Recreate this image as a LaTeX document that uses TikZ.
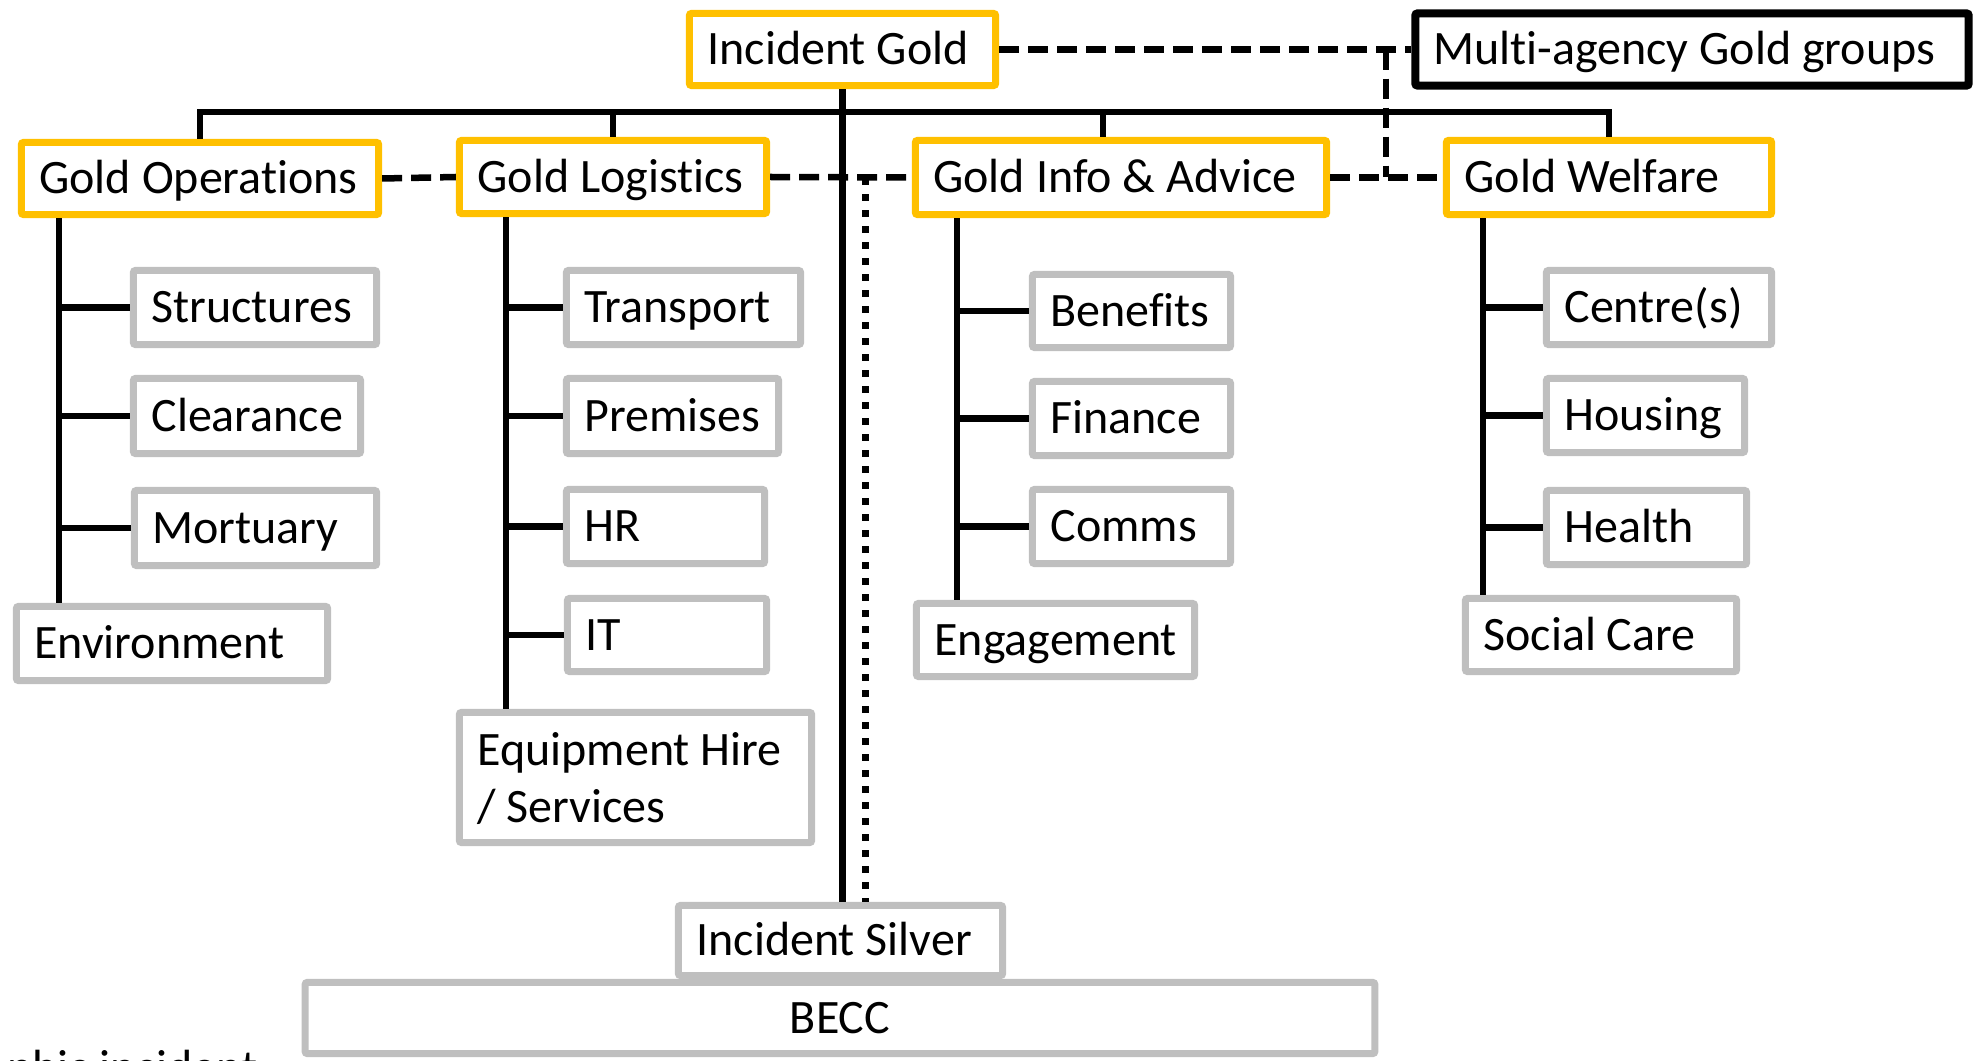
\documentclass[tikz,border=0pt]{standalone}
\usepackage{fontspec}
\setmainfont{Carlito}[Ligatures=NoCommon]
\definecolor{goldline}{HTML}{FFC000}
\definecolor{greyline}{HTML}{BFBFBF}
\tikzset{
  box/.style={draw, line width=0.07cm, rounded corners=0.02cm, fill=white,
    inner xsep=0.18cm, inner ysep=0pt,
    text height=8.8pt, text depth=0pt,
    font=\fontsize{13.65}{16}\selectfont},
  goldbox/.style={box, draw=goldline},
  subbox/.style={box, draw=greyline},
  blackbox/.style={box, draw=black, line width=0.08cm},
  conn/.style={line width=0.065cm, draw=black},
  dashline/.style={line width=0.065cm, draw=black, dash pattern=on 0.2cm off 0.09cm},
  dotline/.style={line width=0.07cm, draw=black, dash pattern=on 0.07cm off 0.09cm},
}
% \orgbox[align]{name}{style}{left}{top}{right}{bottom}{text}, outer edges in px units
\newcommand\orgbox[8][l]{%
  \pgfmathsetmacro\obW{(#6-#4-7)/100}%
  \pgfmathsetmacro\obH{(#7-#5-7)/100}%
  \pgfmathsetmacro\obT{(#6-#4-43)/100}%
  \pgfmathsetmacro\obX{(#4+#6)/2}%
  \pgfmathsetmacro\obY{(#5+#7)/2}%
  \node[#3, minimum width=\obW cm, minimum height=\obH cm] (#2) at (\obX,\obY)
    {\makebox[\obT cm][#1]{#8}};%
}
\begin{document}
\begin{tikzpicture}[x=0.01cm, y=-0.01cm]
\useasboundingbox (0,0) rectangle (1975,1061);
\clip (0,0) rectangle (1975,1061);

% top level
\orgbox{igold}{goldbox}{686}{10}{999}{89}{Incident Gold}
\orgbox{mag}{blackbox}{1412}{10}{1972}{89}{Multi-agency Gold groups}

% gold cells
\orgbox{gops}{goldbox}{18}{139}{382}{218}{Gold Operations}
\orgbox{glog}{goldbox}{456}{137}{770}{217}{Gold Logistics}
\orgbox{ginfo}{goldbox}{912}{137}{1330}{218}{Gold Info \& Advice}
\orgbox{gwel}{goldbox}{1443}{137}{1775}{218}{Gold Welfare}

% operations
\orgbox{struct}{subbox}{130}{267}{380}{348}{Structures}
\orgbox{clear}{subbox}{130}{375}{364}{457}{Clearance}
\orgbox{mort}{subbox}{131}{487}{380}{569}{Mortuary}
\orgbox{env}{subbox}{13}{603}{331}{684}{Environment}

% logistics
\orgbox{trans}{subbox}{563}{267}{804}{348}{Transport}
\orgbox{prem}{subbox}{563}{375}{782}{457}{Premises}
\orgbox{hr}{subbox}{563}{486}{768}{567}{HR}
\orgbox{it}{subbox}{564}{595}{770}{675}{IT}
\orgbox{equip}{subbox, text height=25.4pt, text depth=0pt}{456}{709}{815}{846}{%
  \begin{tabular}[b]{@{}l@{}}Equipment Hire\\/ Services\end{tabular}}

% info & advice
\orgbox{ben}{subbox}{1029}{271}{1234}{351}{Benefits}
\orgbox{fin}{subbox}{1029}{378}{1234}{459}{Finance}
\orgbox{comms}{subbox}{1029}{486}{1234}{567}{Comms}
\orgbox{engage}{subbox}{913}{600}{1198}{680}{Engagement}

% welfare
\orgbox{centres}{subbox}{1543}{267}{1775}{348}{Centre(s)}
\orgbox{housing}{subbox}{1543}{375}{1748}{456}{Housing}
\orgbox{health}{subbox}{1543}{487}{1750}{568}{Health}
\orgbox{social}{subbox}{1462}{595}{1740}{675}{Social Care}

% silver and BECC
\orgbox{isilver}{subbox}{675}{902}{1006}{979}{Incident Silver}
\orgbox[c]{becc}{subbox}{302}{979}{1378}{1057}{BECC}

% note at the lower left edge
\node[font=\fontsize{13.65}{16}\selectfont, anchor=base east, inner sep=0pt] (note) at (258,1083) {catastrophic incident};

% reference points for the connector runs
\coordinate (busL) at (198,112);
\coordinate (infoStub) at (1103,112);
\coordinate (opsx) at (59,0);
\coordinate (logx) at (506,0);
\coordinate (infx) at (957,0);
\coordinate (welx) at (1483,0);
\coordinate (magJ) at (1386,0);
\coordinate (dotTop) at (865,178);

% main bus
\draw[conn] (gops.north) -- (gops.north |- busL) -- (gwel.north |- busL) -- (gwel.north);
\draw[conn] (glog.north) -- (glog.north |- busL);
\draw[conn] (infoStub) -- (infoStub |- ginfo.north);
\draw[conn] (igold.south) -- (igold.south |- isilver.north);

% dashed liaison links
\draw[dashline] (igold.east) -- (mag.west);
\draw[dashline] (magJ |- mag.west) -- (magJ |- ginfo.east);
\draw[dashline] (gops.east) -- (glog.west);
\draw[dashline] (glog.east) -- (ginfo.west);
\draw[dashline] (ginfo.east) -- (gwel.west);
\draw[dotline] (dotTop) -- (dotTop |- isilver.north);

% operations column
\draw[conn] (opsx |- gops.south) -- (opsx |- env.north);
\draw[conn] (opsx |- struct.west) -- (struct.west);
\draw[conn] (opsx |- clear.west) -- (clear.west);
\draw[conn] (opsx |- mort.west) -- (mort.west);

% logistics column
\draw[conn] (logx |- glog.south) -- (logx |- equip.north);
\draw[conn] (logx |- trans.west) -- (trans.west);
\draw[conn] (logx |- prem.west) -- (prem.west);
\draw[conn] (logx |- hr.west) -- (hr.west);
\draw[conn] (logx |- it.west) -- (it.west);

% info & advice column
\draw[conn] (infx |- ginfo.south) -- (infx |- engage.north);
\draw[conn] (infx |- ben.west) -- (ben.west);
\draw[conn] (infx |- fin.west) -- (fin.west);
\draw[conn] (infx |- comms.west) -- (comms.west);

% welfare column
\draw[conn] (welx |- gwel.south) -- (welx |- social.north);
\draw[conn] (welx |- centres.west) -- (centres.west);
\draw[conn] (welx |- housing.west) -- (housing.west);
\draw[conn] (welx |- health.west) -- (health.west);
\end{tikzpicture}
\end{document}
